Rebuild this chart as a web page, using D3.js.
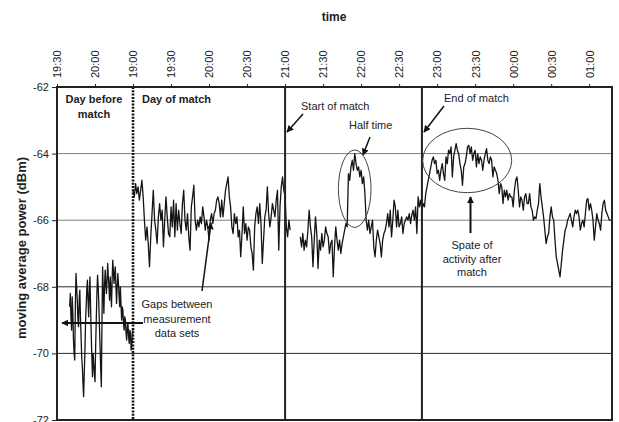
<!DOCTYPE html>
<html>
<head>
<meta charset="utf-8">
<script src="https://cdn.jsdelivr.net/npm/d3@7"></script>
<style>
  html, body { margin: 0; padding: 0; background: #fff; }
  svg { display: block; font-family: "Liberation Sans", Arial, sans-serif; }
</style>
</head>
<body>
<svg id="chart" width="619" height="422"></svg>
<script>
// Time axis: minutes along the (gap-collapsed) plot axis, one tick per half hour.
const tickMinutes = [0, 30, 60, 90, 120, 150, 180, 210, 240, 270, 300, 330, 360, 390, 420];
const tickLabels = ["19:30", "20:00", "19:00", "19:30", "20:00", "20:30", "21:00",
                    "21:30", "22:00", "22:30", "23:00", "23:30", "00:00", "00:30", "01:00"];
const powerTicks = [-62, -64, -66, -68, -70, -72];

// Moving average power (dBm). Day before: one sample every half minute.
const dayBeforeStart = 10;
const dayBeforeStep = 0.5;
const dayBefore = [
  -68.6, -68.2, -68.9, -69.3, -68.3, -68.8, -69.6, -70.0, -70.2, -68.5,
  -67.6, -68.0, -68.4, -69.0, -69.2, -68.4, -68.1, -68.9, -69.5, -70.1,
  -70.4, -70.9, -71.3, -70.6, -70.0, -69.1, -68.6, -68.1, -67.8, -68.4,
  -68.9, -68.2, -67.7, -68.6, -69.4, -70.1, -70.7, -70.0, -70.3, -70.6,
  -70.85, -69.8, -69.0, -68.2, -67.65, -68.0, -68.5, -69.2, -69.8, -70.5,
  -71.0, -69.0, -67.4, -68.1, -68.8, -68.0, -67.5, -67.9, -68.2, -67.8,
  -67.3, -67.7, -68.0, -68.4, -67.7, -68.1, -68.6, -67.8, -67.2, -67.5,
  -67.9, -67.6, -67.4, -68.0, -68.5, -68.0, -67.6, -67.9, -68.3, -68.6,
  -68.0, -68.5, -69.0, -68.6, -68.7, -69.1, -69.3, -68.9, -69.0, -69.4,
  -69.6, -69.2, -69.1, -69.5, -69.7, -69.3, -69.4, -69.9, -69.8, -69.4,
  -69.3
];

// Day of match, one sample per minute.
const matchDayStart = 60;
const matchDayStep = 1;
const matchDay = [
  -65.1, -65.3, -64.9, -65.2, -65.0, -65.4, -65.1, -64.8, -65.3, -66.0,
  -66.6, -66.2, -66.7, -67.4, -66.5, -65.8, -65.1, -66.0, -66.3, -66.7,
  -65.9, -65.5, -66.0, -65.7, -66.8, -66.0, -65.3, -65.9, -66.4, -66.5,
  -65.6, -66.2, -65.4, -66.5, -65.5, -66.3, -65.7, -66.1, -66.4, -65.5,
  -65.1, -66.0, -66.3, -65.8, -66.5, -66.9, -65.6, -65.3, -64.95, -66.0,
  -66.3, -66.0, -66.2, -65.9, -66.1, -65.6, -65.9, -66.3, -66.0, -66.2,
  -66.6, -66.0, -65.8, -66.1, -65.8, -65.7, -65.4, -65.3, -65.5, -65.9,
  -65.4, -65.9, -65.5, -65.1, -64.9, -64.7, -65.3, -65.6, -66.2, -66.4,
  -65.8, -66.1, -65.9, -66.5, -66.3, -67.1, -66.4, -65.6, -66.4, -66.1,
  -66.6, -66.2, -66.3, -66.8, -67.0, -67.5, -66.2, -65.8, -65.6, -66.1,
  -65.5, -66.1, -67.3, -66.6, -65.9, -65.7, -65.0, -65.8, -66.2, -65.9,
  -65.5, -65.7, -65.9, -65.4, -65.1, -66.9, -65.6, -65.0, -64.7, -65.1,
  -65.3, -66.2, -66.5, -66.0, -66.3
];

// Match and the rest of the evening, one sample per minute.
const eveningStart = 192;
const eveningStep = 1;
const evening = [
  -66.5, -66.8, -66.4, -66.9, -66.6, -66.8, -66.3, -65.7, -66.2, -66.5,
  -67.4, -66.6, -65.9, -66.4, -67.45, -66.6, -66.9, -66.4, -66.8, -66.6,
  -66.2, -66.4, -66.5, -67.0, -66.7, -66.6, -67.7, -66.8, -66.2, -66.6,
  -66.9, -66.6, -67.0, -66.7, -66.5, -66.3, -66.1, -66.2, -64.6, -64.8,
  -64.4, -64.2, -64.5, -64.0, -64.3, -64.5, -64.4, -64.7, -64.5, -64.9,
  -64.7, -65.2, -66.0, -66.3, -66.0, -66.4, -66.2, -66.0, -66.8, -67.1,
  -66.6, -66.3, -66.5, -66.7, -67.1, -66.6, -66.4, -66.3, -66.1, -65.8,
  -66.2, -65.7, -66.5, -66.0, -65.4, -65.6, -66.2, -65.7, -66.2, -66.1,
  -65.9, -66.4, -66.1, -66.0, -65.9, -66.0, -65.8, -66.1, -65.85, -65.7,
  -66.0, -65.6, -66.4, -65.3, -65.6, -65.4, -65.7, -65.5, -65.6, -65.2,
  -65.0, -64.8, -64.6, -64.4, -64.2, -64.1, -64.3, -64.2, -64.6, -64.5,
  -64.8, -64.5, -64.3, -64.6, -64.8, -64.1, -64.3, -63.9, -64.0, -63.8,
  -64.7, -64.1, -63.9, -63.7, -63.9, -64.0, -64.3, -64.5, -64.95, -64.4,
  -64.3, -64.1, -63.8, -63.75, -64.0, -63.8, -64.2, -64.0, -63.9, -64.4,
  -64.0, -64.3, -64.1, -64.2, -64.5, -64.2, -64.0, -63.85, -64.2, -64.3,
  -64.1, -64.2, -64.7, -64.4, -64.5, -64.6, -64.8, -65.2, -64.9, -65.0,
  -65.5, -65.1, -65.3, -65.1, -65.4, -65.2, -65.3, -65.3, -65.6, -65.1,
  -64.8, -64.7, -65.1, -65.6, -65.3, -65.4, -65.7, -65.3, -65.2, -65.5,
  -65.5, -65.2, -65.6, -65.7, -66.0, -65.9, -65.95, -65.7, -65.5, -64.9,
  -65.3, -65.6, -65.9, -66.3, -66.7, -66.5, -66.4, -65.9, -65.6, -65.9,
  -66.0, -66.6, -67.1, -67.3, -67.5, -67.7, -67.3, -66.9, -66.6, -66.3,
  -66.2, -66.0, -65.9, -65.8, -66.0, -66.2, -65.9, -65.7, -65.8, -65.7,
  -65.9, -66.3, -66.1, -66.0, -66.2, -65.8, -65.4, -65.35, -65.7, -65.5,
  -65.7, -66.0, -66.6, -66.2, -65.8, -66.0, -66.1, -66.3, -65.8, -65.5,
  -65.4, -65.7, -65.8, -65.9, -66.0, -66.0
];

// Event markers on the time axis (minutes).
const breakMinute = 60;      // boundary between the two days
const kickOffMinute = 180;   // start of match
const fullTimeMinute = 288;  // end of match

const svg = d3.select("#chart");
const margin = { top: 87, right: 7, bottom: 2, left: 57 };
const W = 619, H = 422;

const x = d3.scaleLinear().domain([0, 438]).range([margin.left, W - margin.right]);
const y = d3.scaleLinear().domain([-72, -62]).range([H - margin.bottom, margin.top]);

const toPoints = (start, step, vals) => vals.map((v, i) => ({ m: start + i * step, v }));
const series = [
  toPoints(dayBeforeStart, dayBeforeStep, dayBefore),
  toPoints(matchDayStart, matchDayStep, matchDay),
  toPoints(eveningStart, eveningStep, evening)
];

// Horizontal gridlines
svg.append("g").selectAll("line")
  .data(powerTicks.filter(d => d !== -62 && d !== -72))
  .join("line")
  .attr("x1", x.range()[0]).attr("x2", x.range()[1])
  .attr("y1", d => y(d)).attr("y2", d => y(d))
  .attr("stroke", d => d > -67 ? "#7d7d7d" : "#2a2a2a")
  .attr("stroke-width", 1);

// Axes
const yAxis = svg.append("g")
  .attr("transform", `translate(${margin.left},0)`)
  .call(d3.axisLeft(y).tickValues(powerTicks).tickFormat(d => String(d)).tickSize(5).tickPadding(3));
yAxis.select(".domain").remove();
yAxis.selectAll("line").attr("stroke", "#222");
yAxis.selectAll("text").attr("font-size", 11).attr("fill", "#222")
  .attr("font-family", "'Liberation Sans', Arial, sans-serif");

const xAxis = svg.append("g")
  .attr("transform", `translate(0,${margin.top})`)
  .call(d3.axisTop(x).tickValues(tickMinutes).tickFormat((d, i) => tickLabels[i]).tickSize(3));
xAxis.select(".domain").remove();
xAxis.selectAll("line").attr("stroke", "#222");
xAxis.selectAll("text")
  .attr("font-size", 11).attr("fill", "#222")
  .attr("font-family", "'Liberation Sans', Arial, sans-serif")
  .attr("transform", "rotate(-90)")
  .attr("text-anchor", "start")
  .attr("x", 9).attr("y", 0).attr("dy", "0.35em");

// Data lines
const line = d3.line().x(d => x(d.m)).y(d => y(d.v));
svg.append("g").selectAll("path")
  .data(series)
  .join("path")
  .attr("d", line)
  .attr("fill", "none")
  .attr("stroke", "#151515")
  .attr("stroke-width", 1.3)
  .attr("stroke-linejoin", "round");

// Event lines
svg.append("line")
  .attr("x1", x(breakMinute)).attr("x2", x(breakMinute))
  .attr("y1", y(-62)).attr("y2", y(-72))
  .attr("stroke", "#111").attr("stroke-width", 2.6)
  .attr("stroke-dasharray", "2,1.3");
[kickOffMinute, fullTimeMinute].forEach(m => {
  svg.append("line")
    .attr("x1", x(m)).attr("x2", x(m))
    .attr("y1", y(-62)).attr("y2", y(-72))
    .attr("stroke", "#222").attr("stroke-width", 2);
});

// Plot frame
svg.append("rect")
  .attr("x", x.range()[0]).attr("y", y(-62))
  .attr("width", x.range()[1] - x.range()[0])
  .attr("height", y(-72) - y(-62))
  .attr("fill", "none").attr("stroke", "#222").attr("stroke-width", 2);

// Titles
svg.append("text")
  .attr("x", 334).attr("y", 21)
  .attr("text-anchor", "middle")
  .attr("font-size", 12).attr("font-weight", "bold").attr("fill", "#222")
  .text("time");
svg.append("text")
  .attr("transform", `translate(26,248) rotate(-90)`)
  .attr("text-anchor", "middle")
  .attr("font-size", 13).attr("font-weight", "bold").attr("fill", "#222")
  .text("moving average power (dBm)");

// Annotations
const defs = svg.append("defs");
defs.append("marker")
  .attr("id", "head")
  .attr("viewBox", "0 0 10 10")
  .attr("refX", 9).attr("refY", 5)
  .attr("markerWidth", 7).attr("markerHeight", 7)
  .attr("markerUnits", "userSpaceOnUse")
  .attr("orient", "auto")
  .append("path").attr("d", "M0,0 L10,5 L0,10 z").attr("fill", "#111");

const note = svg.append("g").attr("fill", "#222").attr("font-size", 11);

function label(lines, xp, yp, anchor, bold, lh) {
  const t = note.append("text")
    .attr("x", xp).attr("y", yp)
    .attr("text-anchor", anchor)
    .attr("font-weight", bold ? "bold" : "normal");
  lines.forEach((s, i) => t.append("tspan").attr("x", xp).attr("dy", i ? lh : 0).text(s));
}
function arrow(x1, y1, x2, y2, w) {
  svg.append("line")
    .attr("x1", x1).attr("y1", y1).attr("x2", x2).attr("y2", y2)
    .attr("stroke", "#111").attr("stroke-width", w || 1.5)
    .attr("marker-end", "url(#head)");
}

label(["Day before", "match"], 94, 103, "middle", true, 15);
label(["Day of match"], 142, 103, "start", true, 15);
label(["Start of match"], 301, 110, "start", false, 14);
label(["Half time"], 349, 129, "start", false, 14);
label(["End of match"], 444, 102, "start", false, 14);
label(["Spate of", "activity after", "match"], 472, 249, "middle", false, 13.7);
label(["Gaps between", "measurement", "data sets"], 177, 308, "middle", false, 14.5);

arrow(303, 114, 287, 132);
arrow(370, 137, 363, 155);
arrow(444, 106, 424, 132);
arrow(470.5, 233, 470.5, 197, 2);
arrow(202, 291, 211, 223);
arrow(143, 323, 62, 323, 2);

// Circled regions
svg.append("ellipse")
  .attr("cx", 354.7).attr("cy", 188.7).attr("rx", 16.3).attr("ry", 38.7)
  .attr("fill", "none").attr("stroke", "#444").attr("stroke-width", 1);
svg.append("ellipse")
  .attr("cx", 467.2).attr("cy", 160.5).attr("rx", 44.5).attr("ry", 32.2)
  .attr("fill", "none").attr("stroke", "#444").attr("stroke-width", 1);
</script>
</body>
</html>
